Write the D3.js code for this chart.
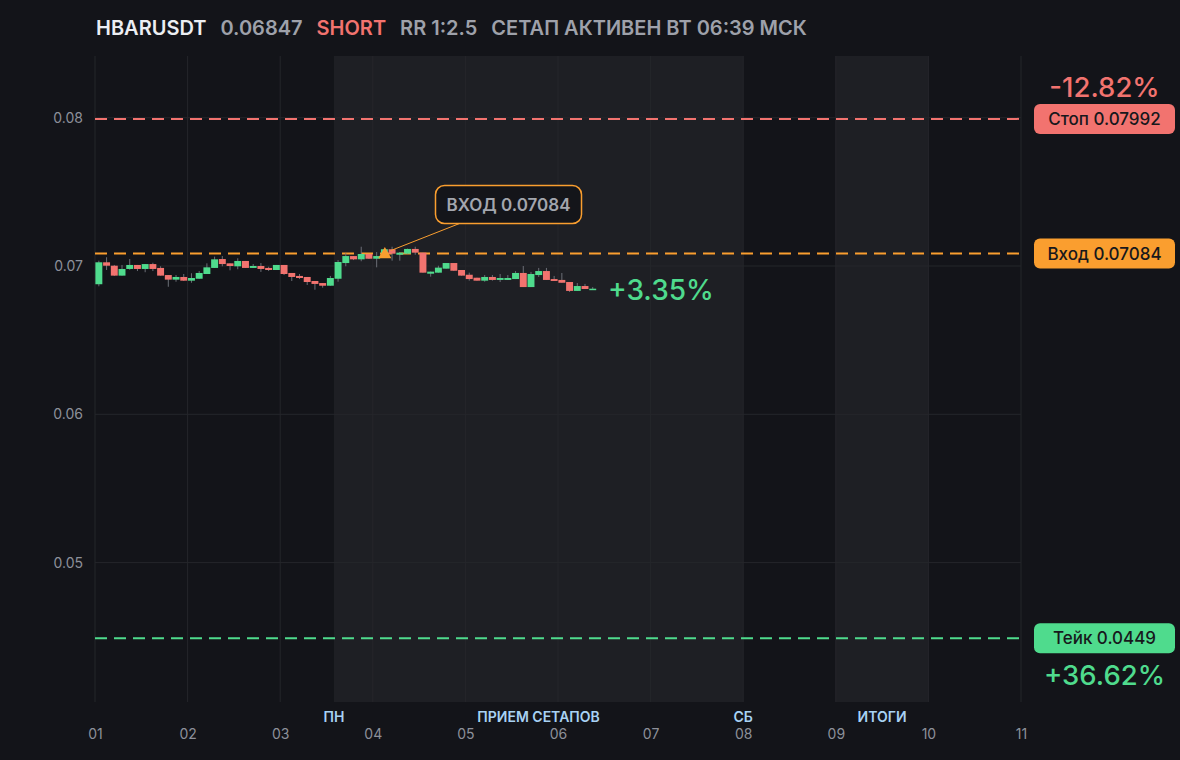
<!DOCTYPE html>
<html>
<head>
<meta charset="utf-8">
<script src="https://cdn.jsdelivr.net/npm/d3@7"></script>
<style>
  html, body { margin: 0; padding: 0; background: #131419; }
  svg { display: block; font-family: Inter, "Noto Sans", sans-serif; }
</style>
</head>
<body>
<script>
// chart size
var width = 1180;
var height = 760;

// header
var symbol = 'HBARUSDT';
var lastPrice = 0.06847;
var side = 'SHORT';
var rrText = 'RR 1:2.5';
var statusText = 'СЕТАП АКТИВЕН ВТ 06:39 МСК';

// levels
var entryPrice = 0.07084;
var stopPrice = 0.07992;
var takePrice = 0.0449;
var entryDay = 4.13; // day number where the entry marker sits

// axes
var dayTicks = [1, 2, 3, 4, 5, 6, 7, 8, 9, 10, 11];
var priceTicks = [0.05, 0.06, 0.07, 0.08];

// shaded zones and their labels
var zones = [
  {from: 3.58, to: 8},
  {from: 9, to: 10}
];
var zoneLabels = [
  {day: 3.58, text: 'ПН'},
  {day: 5.79, text: 'ПРИЕМ СЕТАПОВ'},
  {day: 8, text: 'СБ'},
  {day: 9.5, text: 'ИТОГИ'}
];

// 2h candles from day 01 00:00
var candleHours = 2;
var opens  = [0.06877,0.07025,0.07002,0.06935,0.06980,0.07007,0.06980,0.07013,0.06987,0.06939,
              0.06908,0.06926,0.06901,0.06914,0.06946,0.06987,0.07047,0.07018,0.06998,0.07034,
              0.06987,0.07000,0.06987,0.06973,0.07007,0.06953,0.06933,0.06926,0.06899,0.06885,
              0.06867,0.06914,0.07020,0.07067,0.07045,0.07081,0.07049,0.07067,0.07113,0.07076,
              0.07083,0.07115,0.07090,0.06948,0.06955,0.06982,0.07020,0.06973,0.06941,0.06921,
              0.06901,0.06926,0.06906,0.06906,0.06912,0.06953,0.06858,0.06939,0.06966,0.06912,
              0.06906,0.06892,0.06832,0.06865,0.06838];
var highs  = [0.07036,0.07059,0.07007,0.07007,0.07047,0.07007,0.07013,0.07022,0.06998,0.06939,
              0.06939,0.06946,0.06951,0.06966,0.07018,0.07063,0.07067,0.07018,0.07052,0.07034,
              0.07013,0.07020,0.06995,0.07007,0.07007,0.06953,0.06946,0.06926,0.06899,0.06885,
              0.06933,0.07040,0.07086,0.07067,0.07130,0.07081,0.07094,0.07115,0.07130,0.07094,
              0.07117,0.07130,0.07090,0.06962,0.07002,0.07020,0.07020,0.06973,0.06955,0.06921,
              0.06939,0.06939,0.06946,0.06939,0.06966,0.07000,0.06960,0.06987,0.06987,0.06933,
              0.06953,0.06892,0.06885,0.06879,0.06858];
var lows   = [0.06863,0.06973,0.06933,0.06935,0.06975,0.06966,0.06958,0.06966,0.06935,0.06860,
              0.06894,0.06899,0.06887,0.06914,0.06946,0.06987,0.06998,0.06971,0.06978,0.06987,
              0.06987,0.06960,0.06966,0.06973,0.06939,0.06899,0.06912,0.06872,0.06840,0.06854,
              0.06867,0.06894,0.06998,0.07040,0.07032,0.07047,0.06991,0.07060,0.07036,0.07036,
              0.07083,0.07076,0.06955,0.06928,0.06955,0.06982,0.06966,0.06935,0.06901,0.06901,
              0.06894,0.06901,0.06892,0.06906,0.06912,0.06858,0.06858,0.06926,0.06906,0.06899,
              0.06887,0.06825,0.06832,0.06845,0.06838];
var closes = [0.07025,0.07002,0.06935,0.06980,0.07007,0.06980,0.07013,0.06980,0.06935,0.06908,
              0.06926,0.06901,0.06919,0.06953,0.06991,0.07045,0.07013,0.07000,0.07034,0.06987,
              0.07000,0.06980,0.06973,0.07007,0.06946,0.06926,0.06919,0.06892,0.06879,0.06867,
              0.06919,0.07027,0.07067,0.07045,0.07081,0.07049,0.07067,0.07113,0.07083,0.07090,
              0.07115,0.07090,0.06955,0.06962,0.06989,0.07020,0.06968,0.06935,0.06912,0.06901,
              0.06926,0.06906,0.06919,0.06919,0.06953,0.06858,0.06946,0.06966,0.06906,0.06899,
              0.06887,0.06832,0.06865,0.06845,0.06847];

// colours
var bgColor = '#131419';
var shadeColor = '#1e1f24';
var gridColor = '#25262b';
var red = '#f2736f';
var green = '#4fdb8d';
var orange = '#fa9e2f';
var grey = '#9ea1aa';
var axisGrey = '#8d9099';
var zoneBlue = '#a8d2f4';

// plot box
var plotLeft = 95, plotRight = 1021, plotTop = 56, plotBottom = 702;

var x = d3.scaleLinear().domain([1, 11]).range([plotLeft, plotRight]);
var y = d3.scaleLinear().domain([0.07, 0.08]).range([266, 117.7]);

var svg = d3.select('body').append('svg')
  .attr('width', width)
  .attr('height', height);

svg.append('rect')
  .attr('width', width)
  .attr('height', height)
  .attr('fill', bgColor);

// shaded zones
svg.append('g').selectAll('rect')
  .data(zones)
  .enter().append('rect')
  .attr('x', d => x(d.from))
  .attr('y', plotTop)
  .attr('width', d => x(d.to) - x(d.from))
  .attr('height', plotBottom - plotTop)
  .attr('fill', shadeColor);

// grid
var grid = svg.append('g');
grid.selectAll('.vgrid')
  .data(dayTicks)
  .enter().append('line')
  .attr('x1', d => x(d)).attr('x2', d => x(d))
  .attr('y1', plotTop).attr('y2', plotBottom)
  .attr('stroke', gridColor)
  .attr('stroke-width', 1);
grid.selectAll('.hgrid')
  .data(priceTicks)
  .enter().append('line')
  .attr('x1', plotLeft).attr('x2', plotRight)
  .attr('y1', d => y(d)).attr('y2', d => y(d))
  .attr('stroke', gridColor)
  .attr('stroke-width', 1);

// y axis labels
var yAxis = d3.axisLeft(y).tickValues(priceTicks).tickSize(0).tickPadding(12).tickFormat(d3.format('.2f'));
var yG = svg.append('g').attr('transform', 'translate(' + plotLeft + ',0)').call(yAxis);
yG.select('.domain').remove();
yG.selectAll('text').attr('fill', axisGrey).style('font-size', '14px').style('font-family', 'Inter');

// x axis labels
var xAxis = d3.axisBottom(x).tickValues(dayTicks).tickSize(0).tickPadding(0).tickFormat(d3.format('02d'));
var xG = svg.append('g').attr('transform', 'translate(0,729)').call(xAxis);
xG.select('.domain').remove();
xG.selectAll('text').attr('fill', axisGrey).style('font-size', '14px').style('font-family', 'Inter');

// zone labels
svg.append('g').selectAll('text')
  .data(zoneLabels)
  .enter().append('text')
  .attr('x', d => x(d.day))
  .attr('y', 722)
  .attr('text-anchor', 'middle')
  .attr('fill', zoneBlue)
  .style('font-size', '14px')
  .style('font-weight', 600)
  .text(d => d.text);

// level lines
var levels = [
  {price: stopPrice, color: red},
  {price: entryPrice, color: orange},
  {price: takePrice, color: green}
];
svg.append('g').selectAll('line')
  .data(levels)
  .enter().append('line')
  .attr('x1', plotLeft).attr('x2', plotRight)
  .attr('y1', d => y(d.price)).attr('y2', d => y(d.price))
  .attr('stroke', d => d.color)
  .attr('stroke-width', 2)
  .attr('stroke-dasharray', '12,7');

// candles
var candles = opens.map(function(o, i) {
  return {day: 1 + i * candleHours / 24, open: o, high: highs[i], low: lows[i], close: closes[i]};
});
var step = x(1 + candleHours / 24) - x(1);
var bodyW = step * 0.9;

var cg = svg.append('g');
var cands = cg.selectAll('g')
  .data(candles)
  .enter().append('g');
cands.append('line')
  .attr('x1', d => x(d.day) + step / 2)
  .attr('x2', d => x(d.day) + step / 2)
  .attr('y1', d => y(d.high))
  .attr('y2', d => y(d.low))
  .attr('stroke', '#6b6e76')
  .attr('stroke-width', 1);
cands.append('rect')
  .attr('x', d => x(d.day) + (step - bodyW) / 2)
  .attr('y', d => y(Math.max(d.open, d.close)))
  .attr('width', bodyW)
  .attr('height', d => Math.max(1.5, Math.abs(y(d.open) - y(d.close))))
  .attr('fill', d => d.close >= d.open ? green : red);

// entry marker
var ex = x(entryDay), ey = y(entryPrice);
var boxX = 435.5, boxY = 185.5, boxW = 146, boxH = 38;
svg.append('line')
  .attr('x1', ex + 6).attr('y1', ey - 3)
  .attr('x2', boxX + 24).attr('y2', boxY + boxH)
  .attr('stroke', orange)
  .attr('stroke-width', 1);
svg.append('path')
  .attr('d', d3.symbol().type(d3.symbolTriangle).size(75)())
  .attr('transform', 'translate(' + ex + ',' + (ey + 1) + ')')
  .attr('fill', orange);

svg.append('rect')
  .attr('x', boxX).attr('y', boxY)
  .attr('width', boxW).attr('height', boxH)
  .attr('rx', 9)
  .attr('fill', '#14151a')
  .attr('stroke', orange)
  .attr('stroke-width', 1.5);
svg.append('text')
  .attr('x', boxX + boxW / 2)
  .attr('y', boxY + 25)
  .attr('text-anchor', 'middle')
  .attr('fill', '#a3a6ae')
  .style('font-size', '17px')
  .style('font-weight', 600)
  .text('ВХОД ' + entryPrice);

// current pnl
var curPct = (entryPrice - lastPrice) / entryPrice * 100;
svg.append('text')
  .attr('x', 608)
  .attr('y', y(lastPrice) + 11)
  .attr('fill', green)
  .style('font-size', '28px')
  .style('font-weight', 500)
  .text('+' + curPct.toFixed(2) + '%');

// right side pills
var pillX = 1034, pillW = 141, pillH = 30;
var pills = [
  {price: stopPrice, label: 'Стоп ' + stopPrice, color: red},
  {price: entryPrice, label: 'Вход ' + entryPrice, color: orange},
  {price: takePrice, label: 'Тейк ' + takePrice, color: green}
];
var pg = svg.append('g').selectAll('g')
  .data(pills)
  .enter().append('g');
pg.append('rect')
  .attr('x', pillX)
  .attr('y', d => y(d.price) - pillH / 2)
  .attr('width', pillW)
  .attr('height', pillH)
  .attr('rx', 6)
  .attr('fill', d => d.color);
pg.append('text')
  .attr('x', pillX + pillW / 2)
  .attr('y', d => y(d.price) + 6)
  .attr('text-anchor', 'middle')
  .attr('fill', '#17181c')
  .style('font-size', '17px')
  .style('font-weight', 500)
  .text(d => d.label);

var stopPct = (entryPrice - stopPrice) / entryPrice * 100;
var takePct = (entryPrice - takePrice) / entryPrice * 100;
svg.append('text')
  .attr('x', pillX + pillW / 2)
  .attr('y', y(stopPrice) - 22)
  .attr('text-anchor', 'middle')
  .attr('fill', red)
  .style('font-size', '27.5px')
  .style('font-weight', 500)
  .text(stopPct.toFixed(2) + '%');
svg.append('text')
  .attr('x', pillX + pillW / 2)
  .attr('y', y(takePrice) + 47)
  .attr('text-anchor', 'middle')
  .attr('fill', green)
  .style('font-size', '27.5px')
  .style('font-weight', 500)
  .text('+' + takePct.toFixed(2) + '%');

// header
var headerParts = [
  {text: symbol, color: '#eceef2'},
  {text: lastPrice.toString(), color: grey},
  {text: side, color: red},
  {text: rrText, color: grey},
  {text: statusText, color: grey}
];
var hx = 96;
headerParts.forEach(function(p) {
  var t = svg.append('text')
    .attr('x', hx)
    .attr('y', 35)
    .attr('fill', p.color)
    .style('font-size', '20px')
    .style('font-weight', 600)
    .text(p.text);
  hx += t.node().getComputedTextLength() + 14;
});
</script>
</body>
</html>
